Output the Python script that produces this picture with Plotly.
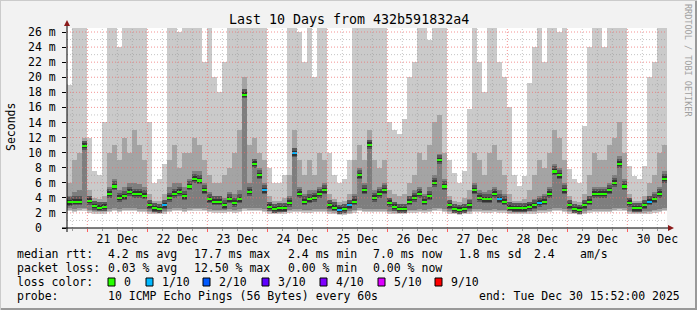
import plotly.graph_objects as go
import pandas as pd

# ---------------- data (2-hour columns) ----------------
START = "2025-12-20 15:52"
END = "2025-12-30 15:52"
STEP_HOURS = 2

median = [
    3.4, 3.5, 3.5, 10.9, 3.6, 2.9, 2.7, 2.8, 4.5, 5.5, 4.0, 4.2, 4.8, 4.5, 4.5,
    4.3, 3.0, 2.6, 2.5, 3.0, 4.0, 4.5, 4.8, 4.2, 5.5, 6.5, 6.3, 5.0, 3.8, 3.5,
    3.5, 3.0, 3.8, 3.3, 3.8, 17.7, 4.8, 8.5, 7.0, 5.0, 2.8, 2.5, 2.6, 2.6, 3.3,
    9.9, 4.5, 3.5, 3.8, 4.0, 4.5, 5.0, 3.0, 2.7, 2.4, 2.5, 3.0, 3.5, 7.0, 5.0,
    11.0, 4.0, 4.5, 5.0, 3.3, 2.8, 2.5, 2.5, 3.5, 4.0, 4.5, 3.5, 4.2, 6.0, 9.0,
    5.5, 3.0, 2.5, 2.4, 2.5, 3.0, 5.0, 4.0, 3.8, 3.8, 4.5, 3.8, 3.5, 2.7, 2.6,
    2.6, 2.6, 2.8, 3.0, 3.3, 3.5, 4.5, 7.5, 7.0, 5.0, 3.0, 2.5, 2.4, 3.0, 3.5,
    4.5, 4.5, 4.5, 5.0, 6.0, 8.5, 5.5, 3.3, 2.6, 2.6, 3.0, 3.5, 3.8, 4.5, 6.5,
]
# highest ping of each column (30 = beyond the top of the chart)
p10 = [
    19, 30, 30, 30, 12, 7.5, 7.0, 14, 30, 30, 24, 30, 30, 28, 30,
    30, 14, 6.0, 6.5, 8.5, 30, 30, 26, 30, 30, 30, 30, 22, 30, 20,
    18, 22, 30, 30, 30, 30, 30, 30, 30, 28, 8, 6.0, 6.0, 7.0, 30,
    30, 26, 22, 30, 20, 30, 30, 10, 7, 6.0, 6.5, 9, 30, 30, 30,
    30, 30, 28, 30, 14, 13, 12.5, 14.5, 20, 22, 30, 30, 25, 30, 30,
    30, 9, 7.3, 6.0, 7.5, 15.8, 30, 22, 18, 30, 30, 22, 20, 16, 7,
    5.6, 6.9, 19.3, 24, 30, 22, 30, 30, 26, 30, 7.8, 6.5, 6.0, 13.5, 24,
    30, 30, 24, 30, 30, 30, 30, 8.2, 6.9, 6.5, 8.2, 20, 22, 30, 30,
]
# second highest ping
p9 = [
    6, 9, 10, 12, 5, 4.0, 3.8, 4.2, 10, 11, 9, 12, 10, 13, 11,
    9, 4.5, 3.6, 3.6, 4.5, 9, 11, 8, 10, 10, 12, 11, 9, 7, 6,
    6, 7, 8, 10, 13, 20, 11, 12, 10, 9, 4.2, 3.6, 3.6, 4.0, 7,
    13, 9, 7, 9, 7, 10, 9, 4.5, 3.8, 3.4, 3.6, 4.5, 9, 11, 9,
    13, 9, 8, 9, 5, 4.5, 4.2, 4.5, 6, 7, 10, 9, 11, 14, 15,
    10, 4.2, 3.6, 3.5, 4.0, 5, 10, 9, 7, 10, 11, 9, 7, 4.5, 3.6,
    3.6, 3.8, 5, 7, 9, 8, 10, 13, 12, 9, 4.2, 3.6, 3.5, 4.5, 7,
    10, 9, 9, 11, 12, 14, 10, 4.5, 3.6, 3.6, 4.2, 6, 7, 10, 11,
]
# third highest ping
p8 = [
    4.3, 4.8, 5.0, 11.5, 4.2, 3.4, 3.2, 3.4, 5.5, 6.5, 5.0, 5.5, 6.0, 6.0, 5.8,
    5.5, 3.6, 3.1, 3.0, 3.6, 5.5, 6.0, 6.0, 5.5, 6.5, 7.5, 7.5, 6.0, 4.8, 4.3,
    4.3, 4.0, 4.8, 4.5, 5.0, 18.2, 6.0, 9.0, 8.0, 6.0, 3.4, 3.0, 3.1, 3.2, 4.3,
    10.3, 5.5, 4.5, 5.0, 5.0, 5.5, 6.0, 3.6, 3.2, 2.9, 3.0, 3.6, 4.5, 8.0, 6.0,
    11.5, 5.0, 5.5, 6.0, 4.0, 3.4, 3.0, 3.1, 4.3, 5.0, 5.5, 4.5, 5.5, 7.0, 9.8,
    6.5, 3.6, 3.0, 2.9, 3.1, 3.8, 6.0, 5.0, 4.8, 5.0, 5.5, 5.0, 4.5, 3.3, 3.1,
    3.1, 3.2, 3.5, 3.8, 4.3, 4.5, 5.5, 8.5, 8.0, 6.0, 3.6, 3.0, 2.9, 3.5, 4.3,
    5.5, 5.5, 5.5, 6.0, 7.0, 9.5, 6.5, 4.0, 3.1, 3.1, 3.6, 4.3, 4.8, 5.5, 7.5,
]
# lowest ping of each column
p1 = [
    2.2, 2.1, 2.2, 2.3, 2.0, 1.9, 1.9, 1.9, 2.1, 2.2, 2.1, 2.2, 2.2, 2.2, 2.1,
    2.1, 1.9, 1.8, 1.8, 1.9, 2.1, 2.2, 2.2, 2.1, 2.2, 2.3, 2.3, 2.2, 2.1, 2.0,
    2.0, 2.0, 2.1, 2.0, 2.1, 2.3, 2.2, 2.2, 2.2, 2.1, 1.9, 1.8, 1.8, 1.9, 2.0,
    2.1, 2.1, 2.0, 2.0, 2.1, 2.1, 2.1, 1.9, 1.8, 1.7, 1.7, 1.8, 2.0, 2.2, 2.1,
    2.1, 2.1, 2.1, 2.1, 1.9, 1.8, 1.8, 1.8, 2.0, 2.0, 2.1, 2.0, 2.1, 2.2, 2.3,
    2.1, 1.9, 1.8, 1.7, 1.8, 1.9, 2.1, 2.1, 2.0, 2.0, 2.1, 2.0, 2.0, 1.8, 1.8,
    1.8, 1.8, 1.9, 1.9, 2.0, 2.0, 2.1, 2.2, 2.2, 2.1, 1.9, 1.8, 1.7, 1.8, 2.0,
    2.1, 2.1, 2.1, 2.1, 2.2, 2.3, 2.2, 1.9, 1.8, 1.8, 1.8, 1.9, 2.0, 2.1, 2.2,
]
# lost pings (out of 10) per column
lost = [0] * 120
for _i in (19, 39, 45, 54, 56, 86, 94, 116):
    lost[_i] = 1

loss_keys = [0, 1, 2, 3, 4, 5, 9]
loss_labels = ["0", "1/10", "2/10", "3/10", "4/10", "5/10", "9/10"]
loss_colors = ["#26ff00", "#00b8ff", "#0059ff", "#5e00ff", "#7e00ff", "#dd00ff", "#ff0000"]

y_tick_vals = list(range(0, 27, 2))
y_tick_text = ["0\u00a0\u00a0"] + [f"{v} m" for v in y_tick_vals[1:]]

stats_rows = [
    [("median rtt:", 16), ("4.2 ms avg", 107), ("17.7 ms max", 193), ("2.4 ms min", 287),
     ("7.0 ms now", 372), ("1.8 ms sd", 458), ("2.4", 533), ("am/s", 579)],
    [("packet loss:", 16), ("0.03 % avg", 107), ("12.50 % max", 193), ("0.00 % min", 287),
     ("0.00 % now", 372)],
]
probe_text = "10 ICMP Echo Pings (56 Bytes) every 60s"
end_text = "end: Tue Dec 30 15:52:00 2025"
title_text = "Last 10 Days from 432b591832a4"

# ---------------- geometry helpers (pixel -> paper) ----------------
W, H = 697, 310
L, R, T, B = 67, 667, 28, 228


def px(x):
    return (x - L) / (R - L)


def py(y):
    return (B - y) / (B - T)


MONO = "DejaVu Sans Mono"

t0 = pd.Timestamp(START)
t1 = pd.Timestamp(END)
times = [t0 + pd.Timedelta(hours=STEP_HOURS * (i + 0.5)) for i in range(len(median))]
width_ms = STEP_HOURS * 3600 * 1000

fig = go.Figure()


def band(base, top, color):
    fig.add_trace(go.Bar(
        x=times, base=base, y=[t - b for t, b in zip(top, base)], width=width_ms,
        marker=dict(color=color, line=dict(width=0)), hoverinfo="skip"))


band(p1, p10, "#cacaca")
band([b + 0.2 for b in p1], p9, "#a4a4a4")
band([b + 0.4 for b in p1], p8, "#7e7e7e")
band([m - 0.5 for m in median], [m + 0.7 for m in median], "#585858")
band([m - 0.3 for m in median], [m + 0.35 for m in median], "#323232")

cmap = dict(zip(loss_keys, loss_colors))
fig.add_trace(go.Bar(
    x=times, base=[m - 0.14 for m in median], y=[0.28] * len(median), width=width_ms,
    marker=dict(color=[cmap[k] for k in lost], line=dict(width=0)), hoverinfo="skip"))

# ---------------- grid (drawn above the smoke, like rrdtool) ----------------
shapes = []
for v in range(1, 27):
    major = v % 2 == 0
    shapes.append(dict(type="line", xref="paper", yref="y", x0=0, x1=1, y0=v, y1=v,
                       line=dict(color="rgba(240,110,110,0.75)" if major else "rgba(150,150,150,0.55)",
                                 width=1, dash="1px,2px"), layer="above"))
t = pd.Timestamp("2025-12-20 18:00")
while t < t1:
    major = t.hour == 0
    shapes.append(dict(type="line", xref="x", yref="paper", x0=t, x1=t, y0=0, y1=1,
                       line=dict(color="rgba(240,110,110,0.75)" if major else "rgba(150,150,150,0.55)",
                                 width=1, dash="1px,2px"), layer="above"))
    t += pd.Timedelta(hours=6)

# axes lines + arrows
shapes.append(dict(type="line", xref="paper", yref="paper", x0=px(62), x1=px(669),
                   y0=py(228), y1=py(228), line=dict(color="#000000", width=1), layer="above"))
shapes.append(dict(type="line", xref="paper", yref="paper", x0=px(67), x1=px(67),
                   y0=py(232), y1=py(24), line=dict(color="#000000", width=1), layer="above"))
shapes.append(dict(type="path", xref="paper", yref="paper",
                   path=f"M {px(64)} {py(26)} L {px(70)} {py(26)} L {px(67)} {py(20)} Z",
                   fillcolor="#8b1a1a", line=dict(width=0), layer="above"))
shapes.append(dict(type="path", xref="paper", yref="paper",
                   path=f"M {px(668)} {py(225)} L {px(668)} {py(231)} L {px(674)} {py(228)} Z",
                   fillcolor="#8b1a1a", line=dict(width=0), layer="above"))

# outer frame
shapes.append(dict(type="line", xref="paper", yref="paper", x0=px(0), x1=px(697),
                   y0=py(309), y1=py(309), line=dict(color="#999999", width=2)))
shapes.append(dict(type="line", xref="paper", yref="paper", x0=px(696), x1=px(696),
                   y0=py(0), y1=py(310), line=dict(color="#999999", width=2)))
shapes.append(dict(type="line", xref="paper", yref="paper", x0=px(0), x1=px(697),
                   y0=py(0.5), y1=py(0.5), line=dict(color="#cbcbcb", width=1)))
shapes.append(dict(type="line", xref="paper", yref="paper", x0=px(0.5), x1=px(0.5),
                   y0=py(0), y1=py(310), line=dict(color="#cbcbcb", width=1)))

# ---------------- texts ----------------
ann = []


def text(s, x, y, size=11.5, anchor="left", color="#000000", angle=0):
    ann.append(dict(text=s, x=px(x), y=py(y), xref="paper", yref="paper", showarrow=False,
                    xanchor=anchor, yanchor="middle", textangle=angle, borderpad=0,
                    font=dict(family=MONO, size=size, color=color)))


text(title_text, 348.5, 19, size=13.3, anchor="center")
text("Seconds", 11, 127, angle=-90, anchor="center")
text("RRDTOOL / TOBI OETIKER", 688, 60, size=8.5, anchor="center", color="#a0a0a0", angle=90)

row_y = [254, 268, 282, 296]
for row, yy in zip(stats_rows, row_y[:2]):
    for s, xx in row:
        text(s, xx, yy)

text("loss color:", 16, row_y[2])
box_x = [108, 146, 203, 262, 320, 378, 435]
for bx, lab, col in zip(box_x, loss_labels, loss_colors):
    shapes.append(dict(type="rect", xref="paper", yref="paper",
                       x0=px(bx), x1=px(bx + 7), y0=py(286), y1=py(278),
                       fillcolor=col, line=dict(color="#000000", width=1)))
    text(lab, bx + 15, row_y[2])

text("probe:", 16, row_y[3])
text(probe_text, 107, row_y[3])
text(end_text, 478, row_y[3])

fig.update_layout(
    width=W, height=H,
    margin=dict(l=L, r=W - R, t=T, b=H - B),
    paper_bgcolor="#f2f2f2", plot_bgcolor="#ffffff",
    barmode="overlay", bargap=0, showlegend=False,
    font=dict(family=MONO, size=11.5, color="#000000"),
    shapes=shapes, annotations=ann,
)
fig.update_xaxes(
    type="date", range=[t0, t1], showgrid=False, zeroline=False, showline=False,
    tick0="2025-12-21 00:00", dtick=86400000, ticklabelmode="period", tickformat="%d %b",
    ticks="outside", ticklen=3, tickcolor="#ff6060", tickwidth=1, ticklabelstandoff=-3,
    minor=dict(ticks="outside", ticklen=2, tickcolor="#999999", dtick=6 * 3600000,
               tick0="2025-12-21 00:00", showgrid=False),
    tickfont=dict(family=MONO, size=11.5),
)
fig.update_yaxes(
    range=[0, (B - T) / 7.538], showgrid=False, zeroline=False, showline=False,
    tickvals=y_tick_vals, ticktext=y_tick_text, ticks="outside", ticklen=4,
    tickcolor="#000000", ticklabelstandoff=4,
    tickfont=dict(family=MONO, size=11.5),
)

fig.write_html("out.html")
